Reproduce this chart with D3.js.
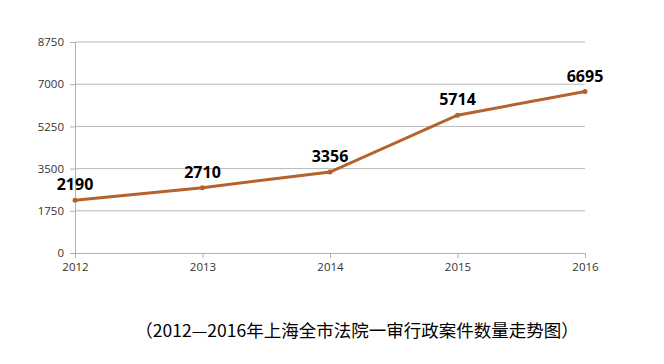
<!DOCTYPE html>
<html>
<head>
<meta charset="utf-8">
<script src="https://cdn.jsdelivr.net/npm/d3@7"></script>
<style>
  body { margin: 0; background: #fff; }
  svg { display: block; }
</style>
</head>
<body>
<svg width="664" height="364"></svg>
<script>
const width = 664;
const height = 364;

// data
const years = ["2012", "2013", "2014", "2015", "2016"];
const cases = [2190, 2710, 3356, 5714, 6695];
const yTicks = [0, 1750, 3500, 5250, 7000, 8750];
const title = "（2012—2016年上海全市法院一审行政案件数量走势图）";

const svg = d3.select("svg");
const margin = {left: 75, right: 79, top: 42, bottom: 111};

const x = d3.scalePoint()
    .domain(years)
    .range([margin.left, width - margin.right]);

const y = d3.scaleLinear()
    .domain([0, 8750])
    .range([height - margin.bottom, margin.top]);

// gridlines
svg.append("g")
    .selectAll("line")
    .data(yTicks.slice(1))
    .join("line")
    .attr("x1", margin.left)
    .attr("x2", width - margin.right)
    .attr("y1", d => y(d))
    .attr("y2", d => y(d))
    .attr("stroke", "#b8b8b8")
    .attr("stroke-width", 1);

// y axis
const yAxis = svg.append("g")
    .attr("transform", `translate(${margin.left},0)`)
    .call(d3.axisLeft(y).tickValues(yTicks).tickFormat(d3.format("d")).tickSize(5).tickPadding(6));
yAxis.select(".domain").attr("stroke", "#b0b0b0");
yAxis.selectAll(".tick line").attr("stroke", "#b0b0b0");
yAxis.selectAll("text")
    .attr("font-family", "'Open Sans', sans-serif")
    .attr("font-size", 11.5)
    .attr("fill", "#333");

// x axis
const xAxis = svg.append("g")
    .attr("transform", `translate(0,${y(0)})`)
    .call(d3.axisBottom(x).tickSize(5).tickPadding(5));
xAxis.select(".domain").attr("stroke", "#b0b0b0");
xAxis.selectAll(".tick line").attr("stroke", "#b0b0b0");
xAxis.selectAll("text")
    .attr("font-family", "'Open Sans', sans-serif")
    .attr("font-size", 11.5)
    .attr("fill", "#333");

const points = years.map((yr, i) => ({year: yr, value: cases[i]}));

const line = d3.line()
    .x(d => x(d.year))
    .y(d => y(d.value));

svg.append("path")
    .datum(points)
    .attr("d", line)
    .attr("fill", "none")
    .attr("stroke", "#b5622c")
    .attr("stroke-width", 3);

svg.append("g")
    .selectAll("circle")
    .data(points)
    .join("circle")
    .attr("cx", d => x(d.year))
    .attr("cy", d => y(d.value))
    .attr("r", 2.5)
    .attr("fill", "#b5622c");

// value labels
svg.append("g")
    .selectAll("text")
    .data(points)
    .join("text")
    .attr("x", d => x(d.year))
    .attr("y", d => y(d.value) - 10)
    .attr("text-anchor", "middle")
    .attr("font-family", "'Open Sans', sans-serif")
    .attr("font-weight", "bold")
    .attr("font-size", 16)
    .attr("fill", "#000")
    .text(d => d.value);

// caption
svg.append("text")
    .attr("x", 357)
    .attr("y", 337)
    .attr("text-anchor", "middle")
    .attr("font-family", "'Noto Sans CJK SC', sans-serif")
    .attr("font-size", 17.5)
    .attr("fill", "#000")
    .text(title);
</script>
</body>
</html>
